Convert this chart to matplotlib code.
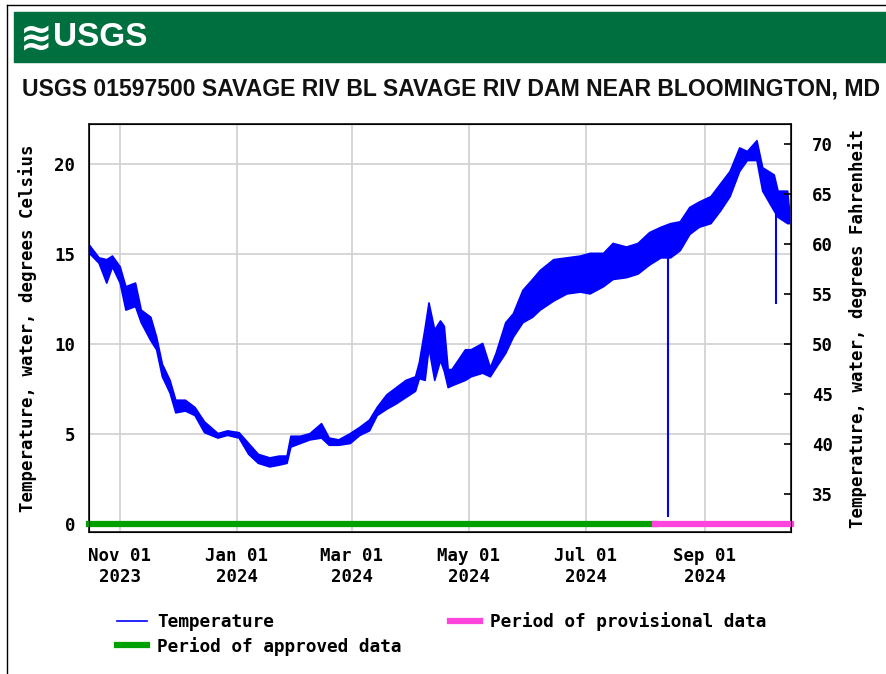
import matplotlib
matplotlib.use('Agg')
from matplotlib import pyplot as plt
from matplotlib import dates as mdates
from matplotlib import font_manager as fm
from matplotlib.lines import Line2D
from matplotlib.patches import Rectangle
import pandas as pd

# daily low / high water temperature (deg C)
dates = ['2023-10-16', '2023-10-21', '2023-10-25', '2023-10-28', '2023-11-01',
         '2023-11-04', '2023-11-09', '2023-11-12', '2023-11-17', '2023-11-20',
         '2023-11-23', '2023-11-27', '2023-11-30', '2023-12-05', '2023-12-10',
         '2023-12-15', '2023-12-22', '2023-12-27', '2024-01-02', '2024-01-07',
         '2024-01-12', '2024-01-18', '2024-01-23', '2024-01-27', '2024-01-29',
         '2024-02-03', '2024-02-08', '2024-02-14', '2024-02-18', '2024-02-23',
         '2024-02-29', '2024-03-05', '2024-03-10', '2024-03-14', '2024-03-19',
         '2024-03-24', '2024-03-29', '2024-04-03', '2024-04-05', '2024-04-08',
         '2024-04-10', '2024-04-13', '2024-04-16', '2024-04-18', '2024-04-20',
         '2024-04-22', '2024-04-29', '2024-05-02', '2024-05-08', '2024-05-12',
         '2024-05-15', '2024-05-20', '2024-05-24', '2024-05-29', '2024-06-03',
         '2024-06-07', '2024-06-14', '2024-06-21', '2024-06-28', '2024-07-03',
         '2024-07-10', '2024-07-15', '2024-07-22', '2024-07-28', '2024-08-03',
         '2024-08-09', '2024-08-14', '2024-08-19', '2024-08-24', '2024-08-29',
         '2024-09-04', '2024-09-09', '2024-09-14', '2024-09-19', '2024-09-23',
         '2024-09-28', '2024-10-01', '2024-10-07', '2024-10-09', '2024-10-14',
         '2024-10-15']
temp_high = [15.5, 14.8, 14.7, 14.9, 14.3, 13.2, 13.4, 11.9, 11.5, 10.4,
             8.9, 8.0, 6.9, 6.9, 6.5, 5.7, 5.05, 5.2, 5.1, 4.5,
             3.9, 3.7, 3.8, 3.8, 4.9, 4.9, 5.05, 5.6, 4.8, 4.7,
             5.05, 5.4, 5.8, 6.5, 7.2, 7.6, 8.0, 8.2, 9.0, 10.9,
             12.3, 10.8, 11.3, 11.0, 8.6, 8.6, 9.7, 9.7, 10.05, 8.7,
             9.5, 11.2, 11.7, 13.0, 13.6, 14.1, 14.7, 14.8, 14.9, 15.05,
             15.05, 15.6, 15.4, 15.6, 16.2, 16.5, 16.7, 16.8, 17.6, 17.9,
             18.2, 18.9, 19.6, 20.9, 20.7, 21.3, 19.8, 19.4, 18.5, 18.5,
             17.4]
temp_low = [15.05, 14.5, 13.4, 14.3, 13.4, 11.9, 12.1, 11.2, 10.2, 9.7,
            8.2, 7.3, 6.2, 6.3, 6.05, 5.1, 4.8, 4.95, 4.8, 3.9,
            3.4, 3.2, 3.3, 3.4, 4.3, 4.5, 4.7, 4.8, 4.4, 4.4,
            4.5, 4.95, 5.2, 6.05, 6.4, 6.7, 7.05, 7.4, 8.1, 8.0,
            9.8, 8.0, 9.1, 8.5, 7.6, 7.7, 8.0, 8.2, 8.4, 8.2,
            8.7, 9.5, 10.4, 11.2, 11.5, 11.9, 12.4, 12.8, 12.9, 12.8,
            13.2, 13.6, 13.7, 13.9, 14.4, 14.8, 14.8, 15.2, 16.1, 16.5,
            16.7, 17.4, 18.2, 19.6, 20.2, 20.2, 18.5, 17.4, 17.05, 16.7,
            16.7]

# short drop-outs in the record
spike_dates = ['2024-08-13', '2024-10-08']
spike_tops = [15.8, 18.0]
spike_lows = [0.4, 12.2]

# approval periods
period_start = '2023-10-16'
provisional_start = '2024-08-06'
period_end = '2024-10-16'

title = 'USGS 01597500 SAVAGE RIV BL SAVAGE RIV DAM NEAR BLOOMINGTON, MD'


def pick_font(names):
    for n in names:
        try:
            fm.findfont(fm.FontProperties(family=n), fallback_to_default=False)
            return n
        except Exception:
            pass
    return 'DejaVu Sans'


mono = 'DejaVu Sans Mono'
narrow = pick_font(['Liberation Sans Narrow', 'Liberation Sans'])

W, H = 887, 674
fig = plt.figure(figsize=(W / 100, H / 100), dpi=100)

# frame lines and header banner
fig.add_artist(Line2D([7.5 / W, 7.5 / W], [0, 1 - 4.5 / H], color='black', lw=1))
fig.add_artist(Line2D([7.5 / W, 1], [1 - 4.5 / H, 1 - 4.5 / H], color='black', lw=1))
fig.add_artist(Rectangle((14 / W, 1 - 62 / H), (W - 14) / W, 50 / H,
                         color='#006f3f', transform=fig.transFigure))
fig.text(20 / W, 1 - 38 / H, '\u224b', color='white', fontsize=28,
         fontweight='bold', va='center', ha='left', family='DejaVu Sans')
fig.text(53 / W, 1 - 38 / H, 'USGS', color='white', fontsize=24,
         fontweight='bold', va='center', ha='left', family=narrow)
fig.text(22 / W, 1 - 89 / H, title, fontsize=16.6, fontweight='bold',
         va='center', ha='left', family=narrow, color='#111111')

ax = fig.add_axes([89 / W, 1 - 532 / H, 702 / W, 408 / H])

x = pd.to_datetime(dates)
blue = '#0000ff'
ax.fill_between(x, temp_low, temp_high, color=blue, lw=1.2, zorder=3)
ax.vlines(pd.to_datetime(spike_dates), spike_lows, spike_tops, color=blue,
          lw=1.5, zorder=3)

t0, t1, t2 = pd.to_datetime([period_start, provisional_start, period_end])
ax.plot([t0, t1], [0, 0], color='#00a000', lw=4.5, solid_capstyle='projecting',
        clip_on=False, zorder=4)
ax.plot([t1, t2], [0, 0], color='#ff44dd', lw=4.5, solid_capstyle='projecting',
        clip_on=False, zorder=4)

ax.set_xlim(t0, t2)
ax.set_ylim(-0.44, 22.2)
ax.set_yticks([0, 5, 10, 15, 20])
ax.xaxis.set_major_locator(mdates.MonthLocator(bymonth=[1, 3, 5, 7, 9, 11]))
ax.xaxis.set_major_formatter(mdates.DateFormatter('%b %d\n%Y'))
ax.grid(color='#d0d0d0', lw=1.2, zorder=0)
ax.set_axisbelow(True)
ax.tick_params(axis='both', length=0, labelsize=12.5)
ax.tick_params(axis='x', pad=11)
ax.tick_params(axis='y', pad=10)
for lab in ax.get_xticklabels() + ax.get_yticklabels():
    lab.set_family(mono)
    lab.set_fontweight('bold')
for s in ax.spines.values():
    s.set_linewidth(1.3)
    s.set_color('#222222')
ax.set_ylabel('Temperature, water, degrees Celsius', family=mono,
              fontweight='bold', fontsize=12.5, labelpad=12)

ax2 = ax.twinx()
lo, hi = ax.get_ylim()
ax2.set_ylim(lo * 1.8 + 32, hi * 1.8 + 32)
ax2.set_yticks([35, 40, 45, 50, 55, 60, 65, 70])
ax2.tick_params(axis='y', direction='in', length=5, width=1.2, pad=15,
                labelsize=12.5)
for lab in ax2.get_yticklabels():
    lab.set_family(mono)
    lab.set_fontweight('bold')
ax2.set_ylabel('Temperature, water, degrees Fahrenheit', family=mono,
               fontweight='bold', fontsize=12.5, labelpad=11)

handles = [Line2D([], [], color=blue, lw=1.2),
           Line2D([], [], color='#00a000', lw=4.5),
           Line2D([], [], color='#ff44dd', lw=4.5)]
labels = ['Temperature', 'Period of approved data', 'Period of provisional data']
fig.legend(handles, labels, loc='upper left', bbox_to_anchor=(108 / W, 1 - 603 / H),
           ncol=2, frameon=False, handlelength=1.7, handletextpad=0.55,
           columnspacing=2.75, labelspacing=0.32, borderpad=0,
           prop={'family': mono, 'weight': 'bold', 'size': 12.8})

fig.savefig('out.png', dpi=100)
